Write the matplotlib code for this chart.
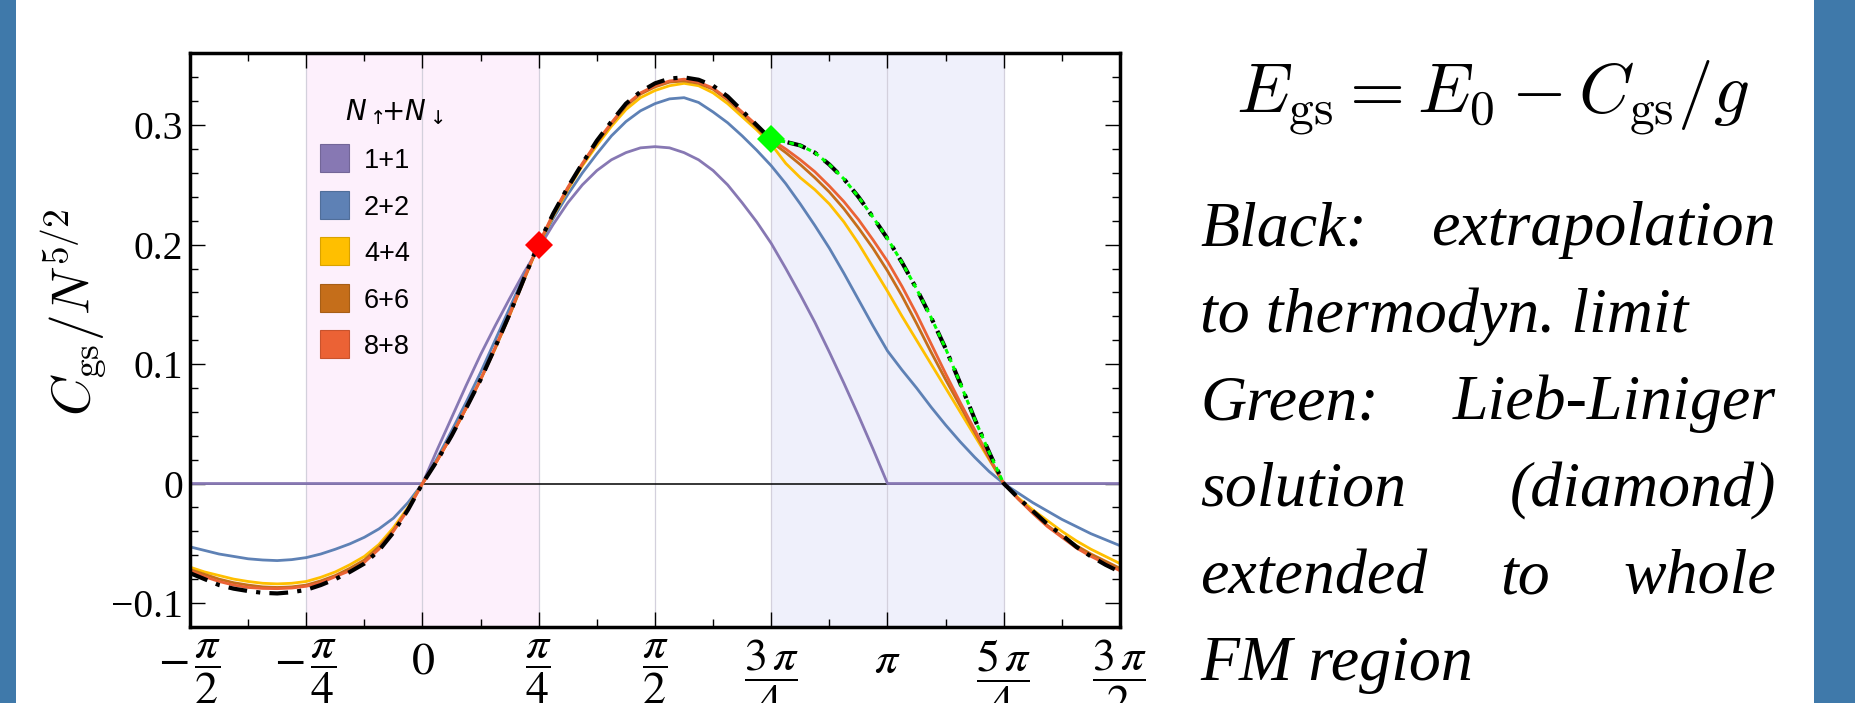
import numpy as np
import matplotlib
matplotlib.use("Agg")
import matplotlib.pyplot as plt
from matplotlib.patches import Rectangle
from matplotlib.colors import to_rgb

plt.rcParams['mathtext.fontset'] = 'stix'

W, H = 1856, 703

# interaction angle in units of pi/4, sampled every pi/32
theta_q = [i / 8 for i in range(-16, 49)]

c_1 = [0, 0, 0, 0, 0, 0, 0, 0,
       0, 0, 0, 0, 0, 0, 0, 0,
       0, 0.028, 0.055, 0.082, 0.108, 0.132, 0.155, 0.177,
       0.197, 0.217, 0.235, 0.250, 0.262, 0.271, 0.277, 0.281,
       0.282, 0.281, 0.277, 0.271, 0.262, 0.250, 0.235, 0.219,
       0.201, 0.180, 0.158, 0.135, 0.110, 0.084, 0.057, 0.029,
       0, 0, 0, 0, 0, 0, 0, 0,
       0, 0, 0, 0, 0, 0, 0, 0,
       0]
c_2 = [-0.053, -0.056, -0.059, -0.061, -0.063, -0.064, -0.0645, -0.0637,
       -0.062, -0.059, -0.055, -0.0505, -0.045, -0.038, -0.029, -0.016,
       0, 0.021, 0.044, 0.068, 0.093, 0.120, 0.147, 0.174,
       0.199, 0.222, 0.242, 0.260, 0.276, 0.291, 0.303, 0.312,
       0.318, 0.322, 0.323, 0.319, 0.311, 0.302, 0.291, 0.279,
       0.266, 0.251, 0.234, 0.216, 0.197, 0.176, 0.154, 0.132,
       0.111, 0.095, 0.080, 0.064, 0.049, 0.035, 0.022, 0.010,
       0, -0.008, -0.016, -0.023, -0.030, -0.036, -0.042, -0.047,
       -0.052]
c_4 = [-0.070, -0.074, -0.077, -0.080, -0.082, -0.0835, -0.084, -0.0835,
       -0.082, -0.0785, -0.074, -0.068, -0.061, -0.051, -0.037, -0.020,
       0, 0.019, 0.040, 0.063, 0.087, 0.113, 0.141, 0.171,
       0.200, 0.224, 0.246, 0.266, 0.283, 0.299, 0.313, 0.323,
       0.329, 0.333, 0.335, 0.333, 0.327, 0.318, 0.307, 0.296,
       0.284, 0.268, 0.256, 0.246, 0.234, 0.219, 0.201, 0.181,
       0.161, 0.140, 0.120, 0.100, 0.080, 0.060, 0.040, 0.020,
       0, -0.012, -0.022, -0.031, -0.040, -0.048, -0.055, -0.061,
       -0.067]
c_6 = [-0.072, -0.076, -0.080, -0.083, -0.085, -0.0865, -0.087, -0.0865,
       -0.085, -0.0815, -0.077, -0.071, -0.064, -0.053, -0.039, -0.021,
       0, 0.019, 0.040, 0.063, 0.087, 0.113, 0.141, 0.171,
       0.200, 0.225, 0.247, 0.267, 0.285, 0.301, 0.316, 0.326,
       0.332, 0.336, 0.337, 0.335, 0.330, 0.321, 0.310, 0.298,
       0.286, 0.277, 0.267, 0.256, 0.244, 0.230, 0.214, 0.197,
       0.178, 0.157, 0.134, 0.110, 0.087, 0.065, 0.043, 0.021,
       0, -0.013, -0.024, -0.035, -0.044, -0.052, -0.059, -0.065,
       -0.071]
c_8 = [-0.073, -0.078, -0.082, -0.085, -0.087, -0.0878, -0.088, -0.0875,
       -0.086, -0.083, -0.078, -0.073, -0.066, -0.055, -0.040, -0.022,
       0, 0.019, 0.040, 0.063, 0.087, 0.114, 0.142, 0.172,
       0.201, 0.226, 0.248, 0.268, 0.286, 0.302, 0.317, 0.327,
       0.333, 0.337, 0.3385, 0.336, 0.331, 0.322, 0.311, 0.300,
       0.288, 0.280, 0.271, 0.261, 0.249, 0.236, 0.221, 0.204,
       0.186, 0.165, 0.142, 0.117, 0.092, 0.068, 0.045, 0.022,
       0, -0.013, -0.025, -0.036, -0.045, -0.054, -0.061, -0.067,
       -0.073]
c_inf = [-0.075, -0.080, -0.085, -0.088, -0.090, -0.0915, -0.092, -0.091,
         -0.089, -0.085, -0.080, -0.074, -0.067, -0.056, -0.041, -0.022,
         0, 0.019, 0.040, 0.063, 0.087, 0.114, 0.142, 0.172,
         0.201, 0.226, 0.248, 0.268, 0.287, 0.303, 0.318, 0.328,
         0.335, 0.339, 0.340, 0.338, 0.333, 0.324, 0.312, 0.300,
         0.288, 0.286, 0.283, 0.277, 0.267, 0.255, 0.240, 0.223,
         0.205, 0.185, 0.163, 0.139, 0.113, 0.084, 0.054, 0.026,
         0, -0.012, -0.023, -0.034, -0.043, -0.053, -0.061, -0.068,
         -0.074]

# Lieb-Liniger branch over the FM region
ll_theta_q = [i / 8 for i in range(24, 41)]
ll_vals = [0.288, 0.286, 0.283, 0.277, 0.267, 0.255, 0.240, 0.223,
           0.205, 0.185, 0.163, 0.139, 0.113, 0.084, 0.054, 0.026, 0]

red_pt = (1, 0.2)
green_pt = (3, 0.288)

sizes = ['1+1', '2+2', '4+4', '6+6', '8+8']
series = [c_1, c_2, c_4, c_6, c_8]
colors = ['#8778b3', '#5e81b5', '#ffbf00', '#c56e1a', '#eb6235']

xtick_q = [-2, -1, 0, 1, 2, 3, 4, 5, 6]
xtick_labels = [r'$-\,\dfrac{\pi}{2}$', r'$-\,\dfrac{\pi}{4}$', r'$0$',
                r'$\dfrac{\pi}{4}$', r'$\dfrac{\pi}{2}$', r'$\dfrac{3\,\pi}{4}$',
                r'$\pi$', r'$\dfrac{5\,\pi}{4}$', r'$\dfrac{3\,\pi}{2}$']
ytick_vals = [-0.1, 0, 0.1, 0.2, 0.3]
ytick_labels = ['\u22120.1', '0', '0.1', '0.2', '0.3']

q = np.pi / 4


def fx(x):
    return x / W


def fy(y):
    return 1 - y / H


fig = plt.figure(figsize=(W / 100, H / 100), dpi=100)

# blue side bars
fig.add_artist(Rectangle((0, 0), fx(16), 1, transform=fig.transFigure,
                         color='#3f79aa', lw=0))
fig.add_artist(Rectangle((fx(1814), 0), fx(W - 1814), 1, transform=fig.transFigure,
                         color='#3f79aa', lw=0))

ax = fig.add_axes([fx(190), fy(627), (1120 - 190) / W, (627 - 53) / H])
x = np.array(theta_q) * q

ax.axvspan(-1 * q, 1 * q, color='#fdf0fc', lw=0, zorder=0)
ax.axvspan(3 * q, 5 * q, color='#eff0fb', lw=0, zorder=0)
for t in xtick_q[1:-1]:
    ax.axvline(t * q, color='#d3d0dc', lw=0.9, zorder=1)
ax.axhline(0, color='black', lw=1.1, zorder=1.5)

for vals, col in zip(series, colors):
    ax.plot(x, vals, color=col, lw=2.0, zorder=2, solid_joinstyle='round')

ax.plot(x, c_inf, color='black', lw=3.0, linestyle=(0, (4.5, 2.2, 1.0, 2.2)),
        dash_capstyle='butt', zorder=3)
ax.plot(np.array(ll_theta_q) * q, ll_vals, color='#00ff00', lw=2.2,
        linestyle=(0, (1.6, 1.4)), zorder=4)
ax.plot([red_pt[0] * q], [red_pt[1]], marker='D', ms=14.5, color='#ff0000',
        mew=0, zorder=5)
ax.plot([green_pt[0] * q], [green_pt[1]], marker='D', ms=14.5, color='#00ff00',
        mew=0, zorder=5)

ax.set_xlim(-2 * q, 6 * q)
ax.set_ylim(-0.1201, 0.3604)
ax.set_xticks([t * q for t in xtick_q])
ax.set_xticklabels(xtick_labels)
ax.set_xticks([(t + 0.5) * q for t in xtick_q[:-1]], minor=True)
ax.set_yticks(ytick_vals)
ax.set_yticklabels(ytick_labels, fontfamily='Liberation Serif')
ax.set_yticks(np.arange(-0.12, 0.36, 0.02), minor=True)
ax.tick_params(which='both', direction='in', top=True, right=True, width=1.0,
               color='black')
ax.tick_params(which='major', length=10.8)
ax.tick_params(which='minor', length=5.8)
ax.tick_params(axis='x', labelsize=33, pad=8)
ax.tick_params(axis='y', labelsize=28.5, pad=5)
for s in ax.spines.values():
    s.set_linewidth(2.5)

fig.text(fx(74), fy(312), r'$C_{\rm gs}/N^{5/2}$', rotation=90, ha='center',
         va='center', fontsize=38.5, math_fontfamily='cm')

# legend drawn by hand: swatches and labels
fig.text(fx(345), fy(120), r'$N_{\uparrow}\!\!{+}N_{\downarrow}$', fontsize=20,
         math_fontfamily='dejavusans', va='baseline', ha='left')
for i, (lab, col) in enumerate(zip(sizes, colors)):
    top = 144 + i * 46.6
    edge = tuple(c * 0.85 for c in to_rgb(col))
    fig.add_artist(Rectangle((fx(320), fy(top + 28)), fx(29), 28 / H,
                             transform=fig.transFigure, facecolor=col,
                             edgecolor=edge, lw=0.8))
    fig.text(fx(364), fy(top + 24), lab, fontsize=19.5, fontfamily='Liberation Sans',
             va='baseline', ha='left')

fig.text(fx(1236), fy(112), r'$E_{\rm gs} = E_0 - C_{\rm gs}/g$', fontsize=51,
         math_fontfamily='cm', va='baseline', ha='left')

# justified italic note
note = [(['Black:', 'extrapolation'], True),
        (['to', 'thermodyn.', 'limit'], False),
        (['Green:', 'Lieb-Liniger'], True),
        (['solution', '(diamond)'], True),
        (['extended', 'to', 'whole'], True),
        (['FM', 'region'], False)]
left, right = 1200, 1776
base0, step = 245, 87
font = dict(fontsize=46, fontfamily='Liberation Serif', fontstyle='italic',
            va='baseline')
renderer = fig.canvas.get_renderer()
for n, (words, justify) in enumerate(note):
    yb = fy(base0 + n * step)
    if not justify:
        fig.text(fx(left), yb, ' '.join(words), ha='left', **font)
        continue
    texts = [fig.text(0, yb, w, ha='left', **font) for w in words]
    widths = [t.get_window_extent(renderer=renderer).width for t in texts]
    gap = (right - left - sum(widths)) / (len(words) - 1)
    xpos = left
    for t, w in zip(texts, widths):
        t.set_x(fx(xpos))
        xpos += w + gap

fig.savefig('out.png', dpi=100)
